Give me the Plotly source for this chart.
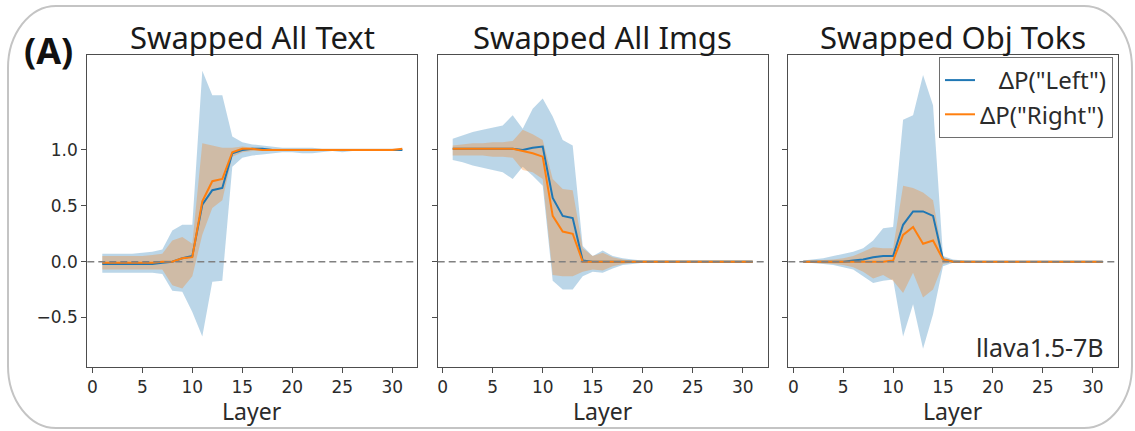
import plotly.graph_objects as go

W, H = 1135, 431

layers = list(range(1, 32))

titles = ["Swapped All Text", "Swapped All Imgs", "Swapped Obj Toks"]
x_ticks = [0, 5, 10, 15, 20, 25, 30]
y_ticks = [-0.5, 0.0, 0.5, 1.0]
y_tick_text = ["\u22120.5", "0.0", "0.5", "1.0"]
series_names = ["\u00a0\u00a0\u00a0\u0394P(\"Left\")", "\u0394P(\"Right\")"]
model_label = "llava1.5-7B"
panel_label = "(A)"

# ---- Panel 1: Swapped All Text ----
p1_left_mean = [-0.02, -0.02, -0.02, -0.02, -0.02, -0.02, -0.01, 0.00, 0.03, 0.05, 0.51, 0.64, 0.66, 0.97, 1.00, 1.01,
                1.01, 1.00, 1.00, 1.00, 1.00, 1.00, 1.00, 1.00, 1.00, 1.00, 1.00, 1.00, 1.00, 1.00, 1.00]
p1_left_hi = [0.07, 0.07, 0.07, 0.07, 0.08, 0.09, 0.11, 0.28, 0.33, 0.33, 1.71, 1.49, 1.49, 1.12, 1.07, 1.05,
              1.04, 1.03, 1.02, 1.02, 1.02, 1.02, 1.01, 1.01, 1.01, 1.01, 1.01, 1.01, 1.01, 1.01, 1.01]
p1_left_lo = [-0.10, -0.10, -0.10, -0.10, -0.10, -0.10, -0.11, -0.26, -0.27, -0.45, -0.67, -0.18, -0.17, 0.85, 0.93,
              0.95, 0.96, 0.97, 0.98, 0.98, 0.97, 0.97, 0.98, 0.99, 0.98, 0.99, 0.99, 0.99, 0.99, 0.99, 0.99]
p1_right_mean = [-0.01, -0.01, -0.01, -0.01, -0.01, -0.01, 0.00, 0.00, 0.03, 0.04, 0.54, 0.72, 0.74, 0.98, 1.01,
                 1.01, 1.00, 1.00, 1.00, 1.00, 1.00, 1.00, 1.00, 1.00, 1.00, 1.00, 1.00, 1.00, 1.00, 1.00, 1.01]
p1_right_hi = [0.05, 0.05, 0.05, 0.05, 0.05, 0.06, 0.07, 0.19, 0.22, 0.16, 1.06, 1.04, 1.02, 1.02, 1.03, 1.02,
               1.02, 1.01, 1.01, 1.01, 1.01, 1.01, 1.01, 1.01, 1.01, 1.01, 1.01, 1.01, 1.01, 1.01, 1.01]
p1_right_lo = [-0.07, -0.07, -0.07, -0.07, -0.07, -0.07, -0.07, -0.21, -0.24, -0.13, 0.24, 0.48, 0.55, 0.94, 0.98,
               0.99, 0.99, 0.99, 0.99, 0.99, 0.99, 0.99, 0.99, 0.99, 0.99, 0.99, 0.99, 0.99, 0.99, 0.99, 0.99]

# ---- Panel 2: Swapped All Imgs ----
p2_left_mean = [1.01, 1.01, 1.01, 1.01, 1.01, 1.01, 1.01, 1.00, 1.02, 1.03, 0.57, 0.41, 0.39, 0.01, 0.00, 0.00,
                0.00, 0.00, 0.00, 0.00, 0.00, 0.00, 0.00, 0.00, 0.00, 0.00, 0.00, 0.00, 0.00, 0.00, 0.00]
p2_left_hi = [1.10, 1.13, 1.16, 1.18, 1.20, 1.22, 1.31, 1.19, 1.37, 1.46, 1.30, 1.09, 1.04, 0.14, 0.05, 0.10,
              0.05, 0.03, 0.02, 0.01, 0.01, 0.01, 0.01, 0.01, 0.01, 0.01, 0.01, 0.01, 0.01, 0.01, 0.01]
p2_left_lo = [0.91, 0.89, 0.86, 0.84, 0.82, 0.80, 0.74, 0.85, 0.77, 0.68, -0.17, -0.25, -0.25, -0.13, -0.09, -0.10,
              -0.06, -0.03, -0.02, -0.01, -0.01, -0.01, -0.01, -0.01, -0.01, -0.01, -0.01, -0.01, -0.01, -0.01, -0.01]
p2_right_mean = [1.01, 1.01, 1.01, 1.01, 1.01, 1.01, 1.01, 0.99, 0.97, 0.94, 0.41, 0.27, 0.25, 0.00, 0.00, 0.00,
                 0.00, 0.00, 0.00, 0.00, 0.00, 0.00, 0.00, 0.00, 0.00, 0.00, 0.00, 0.00, 0.00, 0.00, 0.00]
p2_right_hi = [1.04, 1.05, 1.06, 1.06, 1.07, 1.07, 1.08, 1.18, 1.14, 1.09, 0.74, 0.65, 0.64, 0.12, 0.05, 0.08,
               0.04, 0.02, 0.01, 0.01, 0.01, 0.01, 0.01, 0.01, 0.01, 0.01, 0.01, 0.01, 0.01, 0.01, 0.01]
p2_right_lo = [0.95, 0.95, 0.95, 0.95, 0.94, 0.94, 0.93, 0.82, 0.80, 0.74, -0.12, -0.13, -0.13, -0.09, -0.07, -0.08,
               -0.04, -0.02, -0.01, -0.01, -0.01, -0.01, -0.01, -0.01, -0.01, -0.01, -0.01, -0.01, -0.01, -0.01, -0.01]

# ---- Panel 3: Swapped Obj Toks ----
p3_left_mean = [0.00, 0.00, 0.00, 0.00, 0.00, 0.01, 0.02, 0.04, 0.05, 0.05, 0.33, 0.45, 0.45, 0.41, 0.02, 0.00,
                0.00, 0.00, 0.00, 0.00, 0.00, 0.00, 0.00, 0.00, 0.00, 0.00, 0.00, 0.00, 0.00, 0.00, 0.00]
p3_left_hi = [0.01, 0.02, 0.03, 0.05, 0.07, 0.09, 0.12, 0.19, 0.30, 0.31, 1.27, 1.31, 1.67, 1.40, 0.05, 0.02,
              0.01, 0.005, 0.005, 0.005, 0.005, 0.005, 0.005, 0.005, 0.005, 0.005, 0.005, 0.005, 0.005, 0.005, 0.005]
p3_left_lo = [-0.005, -0.01, -0.02, -0.03, -0.05, -0.07, -0.13, -0.19, -0.17, -0.16, -0.67, -0.38, -0.78, -0.47,
              -0.04, -0.01, -0.005, -0.005, -0.005, -0.005, -0.005, -0.005, -0.005, -0.005, -0.005, -0.005, -0.005,
              -0.005, -0.005, -0.005, -0.005]
p3_right_mean = [0.00, 0.00, 0.00, 0.00, 0.00, 0.00, 0.00, 0.00, 0.00, 0.01, 0.24, 0.31, 0.16, 0.19, 0.02, 0.00,
                 0.00, 0.00, 0.00, 0.00, 0.00, 0.00, 0.00, 0.00, 0.00, 0.00, 0.00, 0.00, 0.00, 0.00, 0.00]
p3_right_hi = [0.005, 0.01, 0.01, 0.02, 0.03, 0.05, 0.09, 0.13, 0.12, 0.12, 0.68, 0.66, 0.62, 0.55, 0.04, 0.01,
               0.005, 0.005, 0.005, 0.005, 0.005, 0.005, 0.005, 0.005, 0.005, 0.005, 0.005, 0.005, 0.005, 0.005, 0.005]
p3_right_lo = [-0.005, -0.01, -0.01, -0.02, -0.03, -0.05, -0.09, -0.15, -0.12, -0.17, -0.28, -0.10, -0.32, -0.25,
               -0.02, -0.005, -0.005, -0.005, -0.005, -0.005, -0.005, -0.005, -0.005, -0.005, -0.005, -0.005, -0.005,
               -0.005, -0.005, -0.005, -0.005]

panels = [
    (p1_left_mean, p1_left_lo, p1_left_hi, p1_right_mean, p1_right_lo, p1_right_hi),
    (p2_left_mean, p2_left_lo, p2_left_hi, p2_right_mean, p2_right_lo, p2_right_hi),
    (p3_left_mean, p3_left_lo, p3_left_hi, p3_right_mean, p3_right_lo, p3_right_hi),
]

BLUE = "#1f77b4"
ORANGE = "#ff7f0e"
BLUE_FILL = "rgba(31,119,180,0.3)"
ORANGE_FILL = "rgba(255,127,14,0.3)"

# layout geometry in pixels
px_domains = [(87.3, 417.3), (437.7, 767.7), (788.3, 1117.7)]
plot_top, plot_bot = 55.0, 366.7

fig = go.Figure()

for i, (lm, llo, lhi, rm, rlo, rhi) in enumerate(panels):
    xa = "x" if i == 0 else f"x{i+1}"
    ya = "y" if i == 0 else f"y{i+1}"
    for lo, hi, fc in [(llo, lhi, BLUE_FILL), (rlo, rhi, ORANGE_FILL)]:
        fig.add_trace(go.Scatter(x=layers, y=lo, mode="lines", line=dict(width=0, color=fc),
                                 showlegend=False, hoverinfo="skip", xaxis=xa, yaxis=ya))
        fig.add_trace(go.Scatter(x=layers, y=hi, mode="lines", line=dict(width=0, color=fc),
                                 fill="tonexty", fillcolor=fc, showlegend=False, hoverinfo="skip",
                                 xaxis=xa, yaxis=ya))
    fig.add_trace(go.Scatter(x=layers, y=lm, mode="lines", line=dict(color=BLUE, width=2),
                             name=series_names[0], showlegend=(i == 2), xaxis=xa, yaxis=ya))
    fig.add_trace(go.Scatter(x=layers, y=rm, mode="lines", line=dict(color=ORANGE, width=2),
                             name=series_names[1], showlegend=(i == 2), xaxis=xa, yaxis=ya))

y_dom = [1 - plot_bot / H, 1 - plot_top / H]
axis_common = dict(showline=True, mirror=True, linecolor="#4d4d4d", linewidth=1.2, ticks="outside",
                   ticklen=5, tickwidth=1, tickcolor="#4d4d4d", showgrid=False, zeroline=False)
layout_axes = {}
for i, (a, b) in enumerate(px_domains):
    sfx = "" if i == 0 else str(i + 1)
    layout_axes[f"xaxis{sfx}"] = dict(axis_common, domain=[a / W, b / W], range=[-0.5, 32.5],
                                      tickvals=x_ticks, anchor=f"y{sfx}",
                                      tickfont=dict(family="DejaVu Sans", size=17, color="#2b2b2b"))
    layout_axes[f"yaxis{sfx}"] = dict(axis_common, domain=y_dom, range=[-0.94, 1.85], tickvals=y_ticks,
                                      ticktext=y_tick_text, showticklabels=(i == 0), anchor=f"x{sfx}",
                                      tickfont=dict(family="DejaVu Sans", size=17, color="#2b2b2b"))
fig.update_layout(**layout_axes)

# dashed zero lines
shapes = []
for i in range(3):
    sfx = "" if i == 0 else str(i + 1)
    shapes.append(dict(type="line", xref=f"x{sfx} domain", x0=0, x1=1, yref=f"y{sfx}", y0=0, y1=0,
                       line=dict(color="#808080", width=1.6, dash="7px,4px"), layer="above"))

# rounded outer frame (decoration)
L, T, R, B = 8.0, 6.0, 1132.0, 428.0
rx, ry = 48.0, 62.0
def P(x, y):
    return f"{x / W:.5f},{1 - y / H:.5f}"
k = 0.45
path = (f"M {P(L + rx, T)} L {P(R - rx, T)} "
        f"C {P(R - rx * k, T)} {P(R, T + ry * k)} {P(R, T + ry)} "
        f"L {P(R, B - ry)} C {P(R, B - ry * k)} {P(R - rx * k, B)} {P(R - rx, B)} "
        f"L {P(L + rx, B)} C {P(L + rx * k, B)} {P(L, B - ry * k)} {P(L, B - ry)} "
        f"L {P(L, T + ry)} C {P(L, T + ry * k)} {P(L + rx * k, T)} {P(L + rx, T)} Z")
shapes.append(dict(type="path", xref="paper", yref="paper", path=path,
                   line=dict(color="#c4c4c4", width=2), layer="below"))

annotations = []
for i, (a, b) in enumerate(px_domains):
    cx = (a + b) / 2 / W
    annotations.append(dict(text=titles[i], x=cx, y=1 - 37 / H, xref="paper", yref="paper",
                            xanchor="center", yanchor="middle", showarrow=False,
                            font=dict(family="Noto Sans", size=31, color="#1a1a1a")))
    annotations.append(dict(text="Layer", x=cx, y=1 - 411 / H, xref="paper", yref="paper",
                            xanchor="center", yanchor="middle", showarrow=False,
                            font=dict(family="Noto Sans", size=23, color="#2b2b2b")))
annotations.append(dict(text=panel_label, x=22 / W, y=1 - 50 / H, xref="paper", yref="paper",
                        xanchor="left", yanchor="middle", showarrow=False,
                        font=dict(family="Noto Sans", size=36, color="#111111", weight="bold")))
annotations.append(dict(text=model_label, x=1106 / W, y=1 - 347 / H, xref="paper", yref="paper",
                        xanchor="right", yanchor="middle", showarrow=False,
                        font=dict(family="Noto Sans", size=25, color="#2b2b2b")))

fig.update_layout(
    width=W, height=H,
    margin=dict(l=0, r=0, t=0, b=0),
    paper_bgcolor="white", plot_bgcolor="white",
    shapes=shapes, annotations=annotations,
    legend=dict(x=1113 / W, y=1 - 57 / H, xanchor="right", yanchor="top",
                bordercolor="#6e6e6e", borderwidth=1, bgcolor="white",
                font=dict(family="Noto Sans", size=24, color="#2b2b2b"),
                itemwidth=30, tracegroupgap=0, traceorder="normal"),
    showlegend=True,
)

fig.write_html("out.html")
